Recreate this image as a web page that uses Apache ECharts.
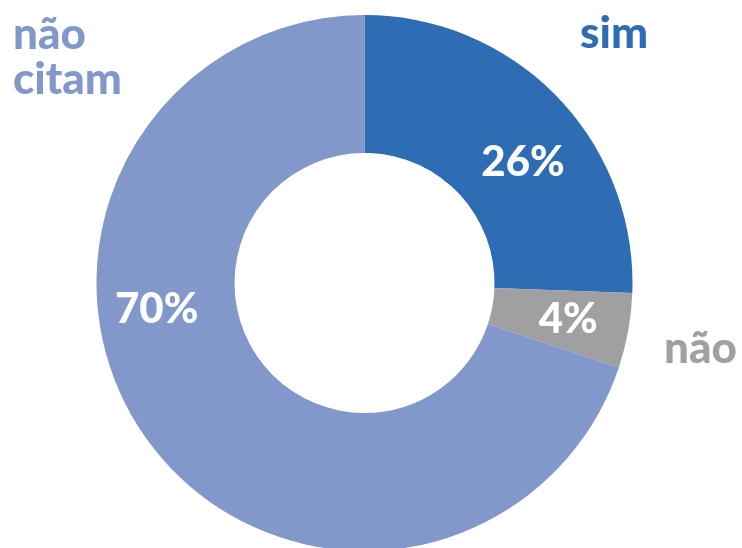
<!DOCTYPE html>
<html>
<head>
<meta charset="utf-8">
<script src="https://cdn.jsdelivr.net/npm/echarts@6/dist/echarts.min.js"></script>
<style>html,body{margin:0;padding:0;background:#fff}#c{width:742px;height:548px}</style>
</head>
<body>
<div id="c"></div>
<script>
var categories = ['sim', 'não', 'não citam'];
var values = [25.6, 4.5, 69.9];
var valueLabels = ['26%', '4%', '70%'];
var colors = ['#2E6DB4', '#A0A0A2', '#8398CA'];
var labelOffsets = [[13, 20], [5, 0], [-44, -92]];

var chart = echarts.init(document.getElementById('c'));
var font = 'Lato, "Open Sans", sans-serif';
chart.setOption({
  animation: false,
  series: [{
    type: 'pie',
    center: [364.5, 283],
    radius: [130, 268],
    startAngle: 90,
    clockwise: true,
    silent: true,
    label: {
      position: 'inside',
      formatter: function (p) { return valueLabels[p.dataIndex]; },
      color: '#fff',
      fontSize: 42,
      fontWeight: 900,
      fontFamily: font
    },
    labelLine: { show: false },
    data: categories.map(function (c, i) {
      return {
        name: c, value: values[i],
        itemStyle: { color: colors[i] },
        label: { offset: labelOffsets[i] }
      };
    })
  }],
  graphic: [
    { type: 'text', left: 580, top: 12, style: { text: categories[0], fill: colors[0], font: '900 44px ' + font } },
    { type: 'text', left: 664, top: 327, style: { text: categories[1], fill: colors[1], font: '900 44px ' + font } },
    { type: 'text', left: 13, top: 12, style: { text: categories[2].replace(' ', '\n'), fill: colors[2], font: '900 44px ' + font, lineHeight: 45 } }
  ]
});
</script>
</body>
</html>
